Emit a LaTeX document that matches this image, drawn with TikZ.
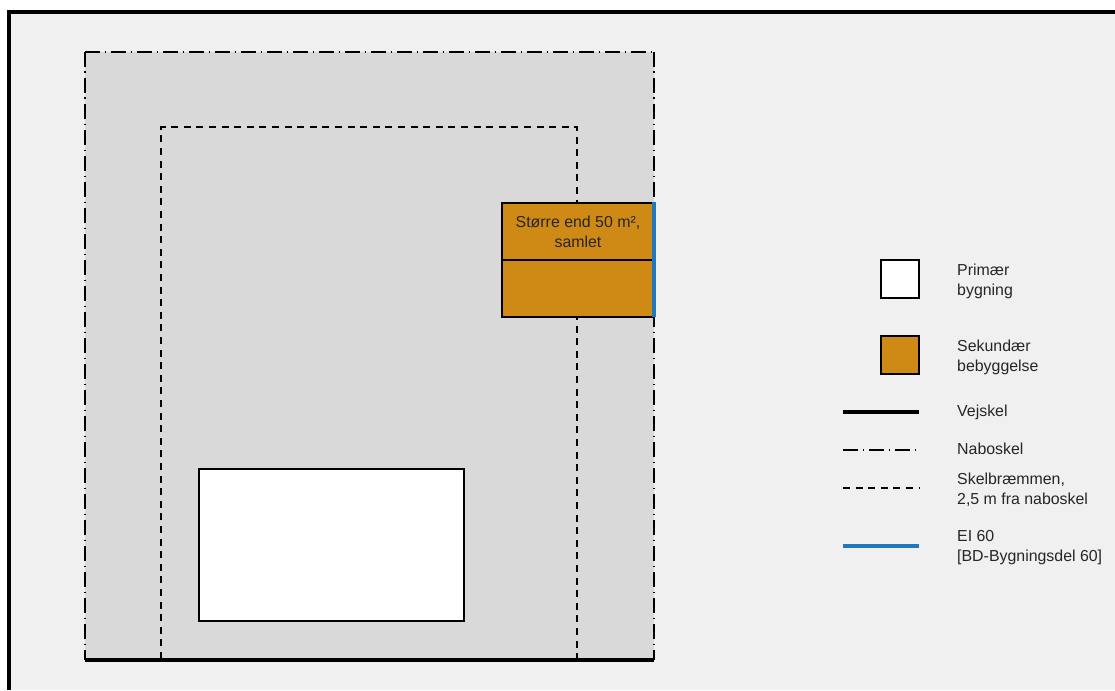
\documentclass[tikz,border=0pt]{standalone}
\usepackage{fontspec}
\setmainfont{Liberation Sans}
\definecolor{bgc}{HTML}{F0F0F0}
\definecolor{plotc}{HTML}{D9D9D9}
\definecolor{secc}{HTML}{CE8A14}
\definecolor{eic}{HTML}{1F78C0}
\tikzset{
  labeltext/.style={align=left,anchor=west,inner sep=0pt,font=\fontsize{15.9}{20}\selectfont,text=black!85},
  swatch/.style={draw=black,line width=2pt,minimum width=38pt,minimum height=38pt,inner sep=0pt},
  building/.style={draw=black,line width=2pt,inner sep=0pt},
  naboline/.style={line width=2pt,dash pattern=on 15pt off 4.5pt on 1.5pt off 5pt},
  skelline/.style={line width=2pt,dash pattern=on 7pt off 5.6pt},
  vejline/.style={line width=4pt},
  eiline/.style={line width=4pt,draw=eic}
}
\begin{document}
\begin{tikzpicture}[x=1pt,y=-1pt]
\useasboundingbox (0,0) rectangle (1115,690);
\fill[white] (0,0) rectangle (1115,690);
\fill[bgc] (9,12) rectangle (1115,690);
\draw[line width=4pt] (9,690) -- (9,12) -- (1115,12);
% plot
\coordinate (pa) at (85,52);
\coordinate (pb) at (654,52);
\coordinate (pc) at (654,659.5);
\coordinate (pd) at (85,659.5);
\fill[plotc] (pa) rectangle (pc);
\draw[naboline] (pa) -- (pb);
\draw[naboline] (pa) -- (pd);
\draw[naboline] (pb) -- (pc);
\coordinate (sa) at (161.4,127);
\coordinate (sb) at (577.4,127);
\coordinate (sc) at (577.4,659);
\coordinate (sd) at (161.4,659);
\draw[skelline] (sd) -- (sa) -- (sb) -- (sc);
\draw[vejline] (pd) -- (pc);
% buildings
\node[building,fill=white,minimum width=265.5pt,minimum height=152pt] (prim) at (331.5,545) {};
\node[building,fill=secc,minimum width=152pt,minimum height=57.5pt] (top) at (578,232) {};
\node[building,fill=secc,minimum width=152pt,minimum height=57pt] (bot) at (578,288.5) {};
\node[align=center,inner sep=0pt,font=\fontsize{15.9}{19.5}\selectfont,text=black!85] (t) at (top.center) {Større end 50 m²,\\samlet};
\coordinate (ea) at (653.5,202);
\coordinate (eb) at (653.5,316.5);
\draw[eiline] (ea) -- (eb);
% legend
\node[swatch,fill=white] (l1) at (900,279) {};
\node[labeltext] (lt1) at (957,281) {Primær\\bygning};
\node[swatch,fill=secc] (l2) at (900,355) {};
\node[labeltext] (lt2) at (957,357.5) {Sekundær\\bebyggelse};
\coordinate (v1) at (843,412);
\coordinate (v2) at (919,412);
\draw[vejline] (v1) -- (v2);
\node[labeltext] (lt3) at (957,412.5) {Vejskel};
\coordinate (n1) at (843,449.5);
\coordinate (n2) at (919,449.5);
\draw[naboline] (n1) -- (n2);
\node[labeltext] (lt4) at (957,449) {Naboskel};
\coordinate (s1) at (843,488);
\coordinate (s2) at (919,488);
\draw[skelline] (s1) -- (s2);
\node[labeltext] (lt5) at (957,490) {Skelbræmmen,\\2,5 m fra naboskel};
\coordinate (e1) at (843,545.5);
\coordinate (e2) at (919,545.5);
\draw[eiline] (e1) -- (e2);
\node[labeltext] (lt6) at (957,548) {EI 60\\{}[BD-Bygningsdel 60]};
\end{tikzpicture}
\end{document}
